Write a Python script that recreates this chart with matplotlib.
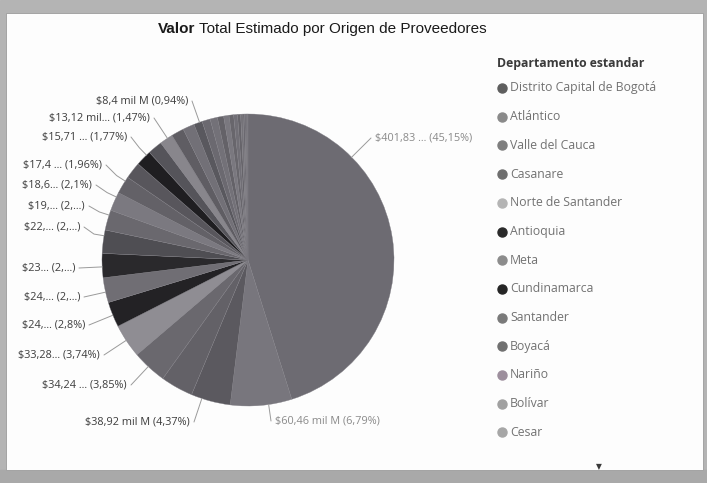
import numpy as np
import matplotlib
matplotlib.use("Agg")
import matplotlib.pyplot as plt
from matplotlib.patches import Rectangle

W, H = 707, 483

# valores en mil M, en el orden en que aparecen en el pie (sentido horario desde las 12)
valores = [401.83, 60.46, 38.92, 32.0, 34.24, 33.28, 24.9, 24.5, 23.8, 22.9,
           19.9, 18.6, 17.4, 16.5, 15.71, 14.3, 13.12, 12.5, 11.4, 8.4,
           8.1, 7.2, 6.2, 5.3, 4.5, 3.8, 3.0, 2.3, 1.7, 1.2, 0.9, 0.6, 0.5]

etiquetas = ["$401,83 ... (45,15%)", "$60,46 mil M (6,79%)", "$38,92 mil M (4,37%)", "",
             "$34,24 ... (3,85%)", "$33,28... (3,74%)", "$24,... (2,8%)", "$24,... (2,...)",
             "$23... (2,...)", "$22,... (2,...)", "$19,... (2,...)", "$18,6... (2,1%)",
             "$17,4 ... (1,96%)", "", "$15,71 ... (1,77%)", "", "$13,12 mil... (1,47%)",
             "", "", "$8,4 mil M (0,94%)"] + [""] * 13

colores_pie = ["#6d6b72", "#78767d", "#5b595f", "#636167", "#6a686e", "#8f8d93",
               "#232225", "#706e74", "#2a292c", "#4f4e53", "#6a686e", "#7b7980",
               "#636167", "#58565c", "#1f1e21", "#55545a", "#88868c", "#5f5d63",
               "#727077", "#59585e",
               "#6b6970", "#737178", "#646268", "#7a787f", "#68666c", "#716f76",
               "#66646a", "#757379", "#6a686f", "#706e75", "#67656b", "#747279", "#6c6a70"]

departamentos = ["Distrito Capital de Bogotá", "Atlántico", "Valle del Cauca", "Casanare",
                 "Norte de Santander", "Antioquia", "Meta", "Cundinamarca", "Santander",
                 "Boyacá", "Nariño", "Bolívar", "Cesar"]
colores_leyenda = ["#5e5e5e", "#8a8a8a", "#7e7e7e", "#6e6e6e", "#b4b4b4", "#2a2a2a",
                   "#8c8c8c", "#252525", "#7a7a7a", "#707070", "#9d8f9d", "#a0a0a0", "#a6a6a6"]

# posicion de cada etiqueta en pixeles (x, y, alineacion) -- solo layout
pos_etiquetas = {0: (375, 138, "left"), 1: (275, 421, "left"), 2: (190, 422, "right"),
                 4: (127, 385, "right"), 5: (100, 355, "right"), 6: (85, 325, "right"),
                 7: (80, 297, "right"), 8: (75, 268, "right"), 9: (80, 227, "right"),
                 10: (85, 206, "right"), 11: (92, 185, "right"), 12: (102, 165, "right"),
                 14: (127, 137, "right"), 16: (150, 118, "right"), 19: (188, 101, "right")}

fig = plt.figure(figsize=(W / 100, H / 100), dpi=100)

# fondo: marco gris + tarjeta blanca
bg = fig.add_axes([0, 0, 1, 1], zorder=0)
bg.set_xlim(0, W)
bg.set_ylim(H, 0)
bg.axis("off")
bg.add_patch(Rectangle((0, 0), W, H, color="#b4b4b4"))
bg.add_patch(Rectangle((0, 470), W, 13, color="#a9a9a9"))
bg.add_patch(Rectangle((6, 13), 697, 457, facecolor="#fdfdfd", edgecolor="#9c9c9c", lw=0.6))

# pie
cx, cy, r = 248, 260, 146
ax = fig.add_axes([(cx - r) / W, (H - cy - r) / H, 2 * r / W, 2 * r / H], zorder=1)
wedges, _ = ax.pie(valores, colors=colores_pie, startangle=90, counterclock=False,
                   radius=1, wedgeprops=dict(edgecolor="#7d7b82", linewidth=0.25))
ax.set_xlim(-1, 1)
ax.set_ylim(-1, 1)
ax.patch.set_visible(False)

top = fig.add_axes([0, 0, 1, 1], zorder=2)
top.set_xlim(0, W)
top.set_ylim(H, 0)
top.axis("off")
top.patch.set_visible(False)

fig.canvas.draw()
renderer = fig.canvas.get_renderer()

def pie_to_px(p):
    return top.transData.inverted().transform(ax.transData.transform(p))

def px_to_pie(p):
    return ax.transData.inverted().transform(top.transData.transform(p))

fuente = ["Open Sans", "DejaVu Sans"]

for i, w in enumerate(wedges):
    if not etiquetas[i]:
        continue
    x, y, ha = pos_etiquetas[i]
    oscuro = ha == "right"
    top.text(x, y, etiquetas[i], ha=ha, va="center", fontsize=7.8, family=fuente,
             color="#3d3d3d" if oscuro else "#8a8a8a")
    anchor = (x + 4, y) if ha == "right" else (x - 4, y)
    ap = px_to_pie(anchor)
    d = np.degrees(np.arctan2(ap[1], ap[0]))
    t1, t2 = w.theta1, w.theta2
    mid = (t1 + t2) / 2
    while d < mid - 180:
        d += 360
    while d > mid + 180:
        d -= 360
    m = 0.25 * (t2 - t1)
    d = np.clip(d, t1 + m, t2 - m)
    u = np.array([np.cos(np.radians(d)), np.sin(np.radians(d))])
    p0 = pie_to_px(u * 1.0)
    p1 = pie_to_px(u * 1.07)
    top.plot([p0[0], p1[0], anchor[0]], [p0[1], p1[1], anchor[1]],
             color="#9a9a9a", lw=0.7, solid_capstyle="round")

# titulo con "Valor" en negrita
tx = 158
for parte, peso in [("Valor", "bold"), (" Total Estimado por Origen de Proveedores", "normal")]:
    t = top.text(tx, 29, parte, ha="left", va="center", fontsize=11, weight=peso,
                 family=["Liberation Sans", "DejaVu Sans"], color="#1a1a1a")
    tx += t.get_window_extent(renderer).width

# leyenda
top.text(497, 63, "Departamento estandar", ha="left", va="center", fontsize=8.8,
         weight="bold", family=fuente, color="#3a3a3a")
for i, (nombre, col) in enumerate(zip(departamentos, colores_leyenda)):
    yy = 88 + i * 28.7
    top.plot(502, yy, "o", ms=6.5, color=col, mec=col)
    top.text(510, yy, nombre, ha="left", va="center", fontsize=8.8, family=fuente,
             color="#727272")
top.text(599, 467, "▼", ha="center", va="center", fontsize=5.5, color="#3a3a3a")

fig.savefig("out.png", dpi=100)
